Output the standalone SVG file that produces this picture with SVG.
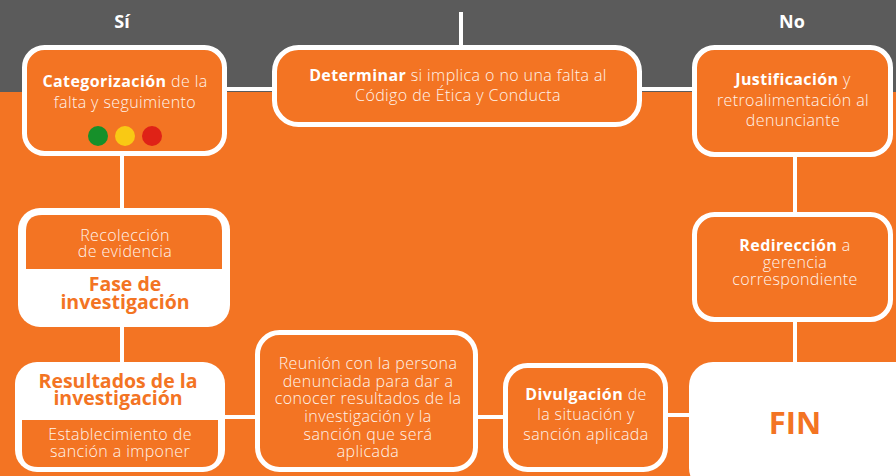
<svg xmlns="http://www.w3.org/2000/svg" width="896" height="476" viewBox="0 0 896 476">
<style>
.box{fill:#f37423;stroke:#ffffff;stroke-width:5}
.ln{stroke:#ffffff;stroke-width:4;fill:none}
text{font-family:"Open Sans","Liberation Sans",sans-serif;text-anchor:middle}
.t{font-size:16px;fill:#fff3ea;font-weight:300;letter-spacing:0.4px}
.b{font-weight:700;fill:#ffffff}
.ob{font-size:19.5px;font-weight:700;fill:#f37423}
.hd{font-size:18px;font-weight:700;fill:#ffffff}
</style>
<rect x="0" y="0" width="896" height="476" fill="#f37423"/>
<rect x="0" y="0" width="896" height="92" fill="#5b5b5b"/>
<text class="hd" x="122" y="28">Sí</text>
<text class="hd" x="792" y="28">No</text>
<g id="connectors">
<line class="ln" x1="461" y1="12" x2="461" y2="47"/>
<line class="ln" x1="226" y1="89" x2="274" y2="89"/>
<line class="ln" x1="640" y1="89" x2="694" y2="89"/>
<line class="ln" x1="795" y1="155" x2="795" y2="214"/>
<line class="ln" x1="795" y1="320" x2="795" y2="364"/>
<line class="ln" x1="122" y1="155" x2="122" y2="210"/>
<line class="ln" x1="122" y1="325" x2="122" y2="364"/>
<line class="ln" x1="223" y1="417" x2="257" y2="417"/>
<line class="ln" x1="476" y1="417" x2="505" y2="417"/>
<line class="ln" x1="666" y1="415" x2="691" y2="415"/>
</g>
<g id="categorizacion">
<rect class="box" x="24.5" y="47.5" width="200" height="106" rx="20"/>
<text class="t" x="125" y="87"><tspan class="b">Categorización</tspan> de la</text>
<text class="t" x="125" y="108">falta y seguimiento</text>
<circle cx="98" cy="136" r="10" fill="#16902a"/>
<circle cx="125" cy="136" r="10" fill="#f9c914"/>
<circle cx="152" cy="136" r="10" fill="#df2217"/>
</g>
<g id="determinar">
<rect class="box" x="274.5" y="47.5" width="365" height="77" rx="24"/>
<text class="t" x="458" y="81"><tspan class="b">Determinar</tspan> si implica o no una falta al</text>
<text class="t" x="458" y="101">Código de Ética y Conducta</text>
</g>
<g id="justificacion">
<rect class="box" x="694.5" y="47.5" width="196" height="107" rx="20"/>
<text class="t" x="793" y="85"><tspan class="b">Justificación</tspan> y</text>
<text class="t" x="793" y="106">retroalimentación al</text>
<text class="t" x="793" y="126">denunciante</text>
</g>
<g id="redireccion">
<rect class="box" x="694.5" y="214.5" width="196" height="105" rx="20"/>
<text class="t" x="795" y="251"><tspan class="b">Redirección</tspan> a</text>
<text class="t" x="795" y="268">gerencia</text>
<text class="t" x="795" y="285">correspondiente</text>
</g>
<g id="fin">
<rect x="689" y="362" width="230" height="130" rx="24" fill="#ffffff"/>
<text x="795" y="434" style="font-size:31px;font-weight:700;fill:#f37423">FIN</text>
</g>
<g id="fase">
<rect x="18" y="208" width="212" height="119" rx="22" fill="#ffffff"/>
<path d="M26 269 V231 Q26 215 42 215 H206 Q222 215 222 231 V269 Z" fill="#f37423"/>
<text class="t" x="125" y="241">Recolección</text>
<text class="t" x="125" y="257">de evidencia</text>
<text class="ob" x="125" y="291">Fase de</text>
<text class="ob" x="125" y="309">investigación</text>
</g>
<g id="resultados">
<rect x="15" y="362" width="210" height="110" rx="22" fill="#ffffff"/>
<path d="M22 420 H218 V451 Q218 467 202 467 H38 Q22 467 22 451 Z" fill="#f37423"/>
<text class="ob" x="118" y="388">Resultados de la</text>
<text class="ob" x="118" y="405">investigación</text>
<text class="t" x="120" y="440">Establecimiento de</text>
<text class="t" x="120" y="457">sanción a imponer</text>
</g>
<g id="reunion">
<rect class="box" x="257.5" y="332.5" width="218" height="137" rx="22"/>
<text class="t" x="368" y="369">Reunión con la persona</text>
<text class="t" x="368" y="387">denunciada para dar a</text>
<text class="t" x="368" y="404">conocer resultados de  la</text>
<text class="t" x="368" y="422">investigación y la</text>
<text class="t" x="368" y="440">sanción que será</text>
<text class="t" x="368" y="457">aplicada</text>
</g>
<g id="divulgacion">
<rect class="box" x="505.5" y="365.5" width="160" height="104" rx="22"/>
<text class="t" x="586" y="400"><tspan class="b">Divulgación</tspan> de</text>
<text class="t" x="586" y="420">la situación y</text>
<text class="t" x="586" y="440">sanción aplicada</text>
</g>
</svg>
